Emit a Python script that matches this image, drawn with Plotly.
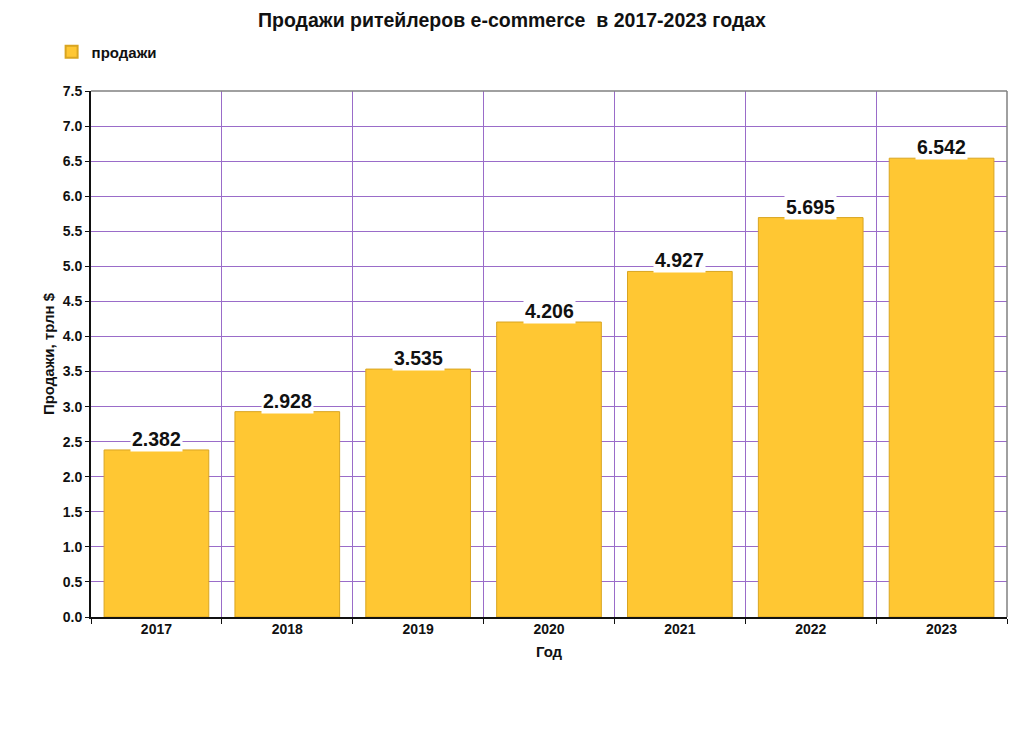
import plotly.graph_objects as go

years = ["2017", "2018", "2019", "2020", "2021", "2022", "2023"]
sales = [2.382, 2.928, 3.535, 4.206, 4.927, 5.695, 6.542]
labels = ["2.382", "2.928", "3.535", "4.206", "4.927", "5.695", "6.542"]
series_name = "продажи"

FONT = "Liberation Sans, Arial, sans-serif"
# page has an 8px body margin: figure is sized so the full page is 1024x753
W, H = 1008, 737

fig = go.Figure()
fig.add_trace(go.Bar(
    x=years, y=sales, name=series_name,
    marker=dict(color="#FFC733", line=dict(color="#D9A521", width=1)),
    showlegend=True,
))

for i, (y, t) in enumerate(zip(sales, labels)):
    fig.add_annotation(x=i, y=y, text="<b>%s</b>" % t, showarrow=False,
                       yanchor="bottom", yshift=-2, bgcolor="white",
                       font=dict(family=FONT, size=19.5, color="#111111"),
                       borderpad=1)

fig.update_layout(
    width=W, height=H,
    margin=dict(l=83, r=9, t=83, b=128, autoexpand=False),
    paper_bgcolor="white", plot_bgcolor="white",
    title=dict(text="<b>Продажи ритейлеров e-commerce  в 2017-2023 годах</b>",
               x=0.5, xanchor="center", y=0.993, yanchor="top",
               font=dict(family=FONT, size=19.5, color="#111111")),
    legend=dict(x=-0.043, y=1.074, xanchor="left", yanchor="middle",
                font=dict(family=FONT, size=15, color="#111111", weight="bold"),
                itemsizing="constant", bgcolor="rgba(0,0,0,0)",
                itemwidth=30),
    bargap=0.2,
    font=dict(family=FONT, color="#111111"),
)

fig.update_xaxes(
    type="category", range=[-0.5, 6.5], tickson="boundaries", ticks="outside", ticklen=5,
    tickcolor="#111111", showline=True, linecolor="#111111", linewidth=2,
    showgrid=True, gridcolor="#9A6CC9", gridwidth=1, tickangle=0,
    ticklabelstandoff=-2,
    tickfont=dict(family=FONT, size=14, color="#111111", weight="bold"),
    title=dict(text="<b>Год</b>", font=dict(family=FONT, size=15, color="#111111"),
               standoff=11),
)
fig.update_yaxes(
    range=[0, 7.5], dtick=0.5, tickformat=".1f",
    ticks="outside", ticklen=4, tickcolor="#111111",
    showline=True, linecolor="#111111", linewidth=2,
    showgrid=True, gridcolor="#9A6CC9", gridwidth=1, zeroline=False,
    tickfont=dict(family=FONT, size=14, color="#111111", weight="bold"),
    title=dict(text="<b>Продажи, трлн $</b>", font=dict(family=FONT, size=15, color="#111111"),
               standoff=4),
)

# gray frame top/right
fig.add_shape(type="line", xref="paper", yref="paper", x0=0, x1=1, y0=1, y1=1,
              line=dict(color="#808080", width=1.5))
fig.add_shape(type="line", xref="paper", yref="paper", x0=1, x1=1, y0=0, y1=1,
              line=dict(color="#808080", width=1.5))

fig.write_html("out.html")
